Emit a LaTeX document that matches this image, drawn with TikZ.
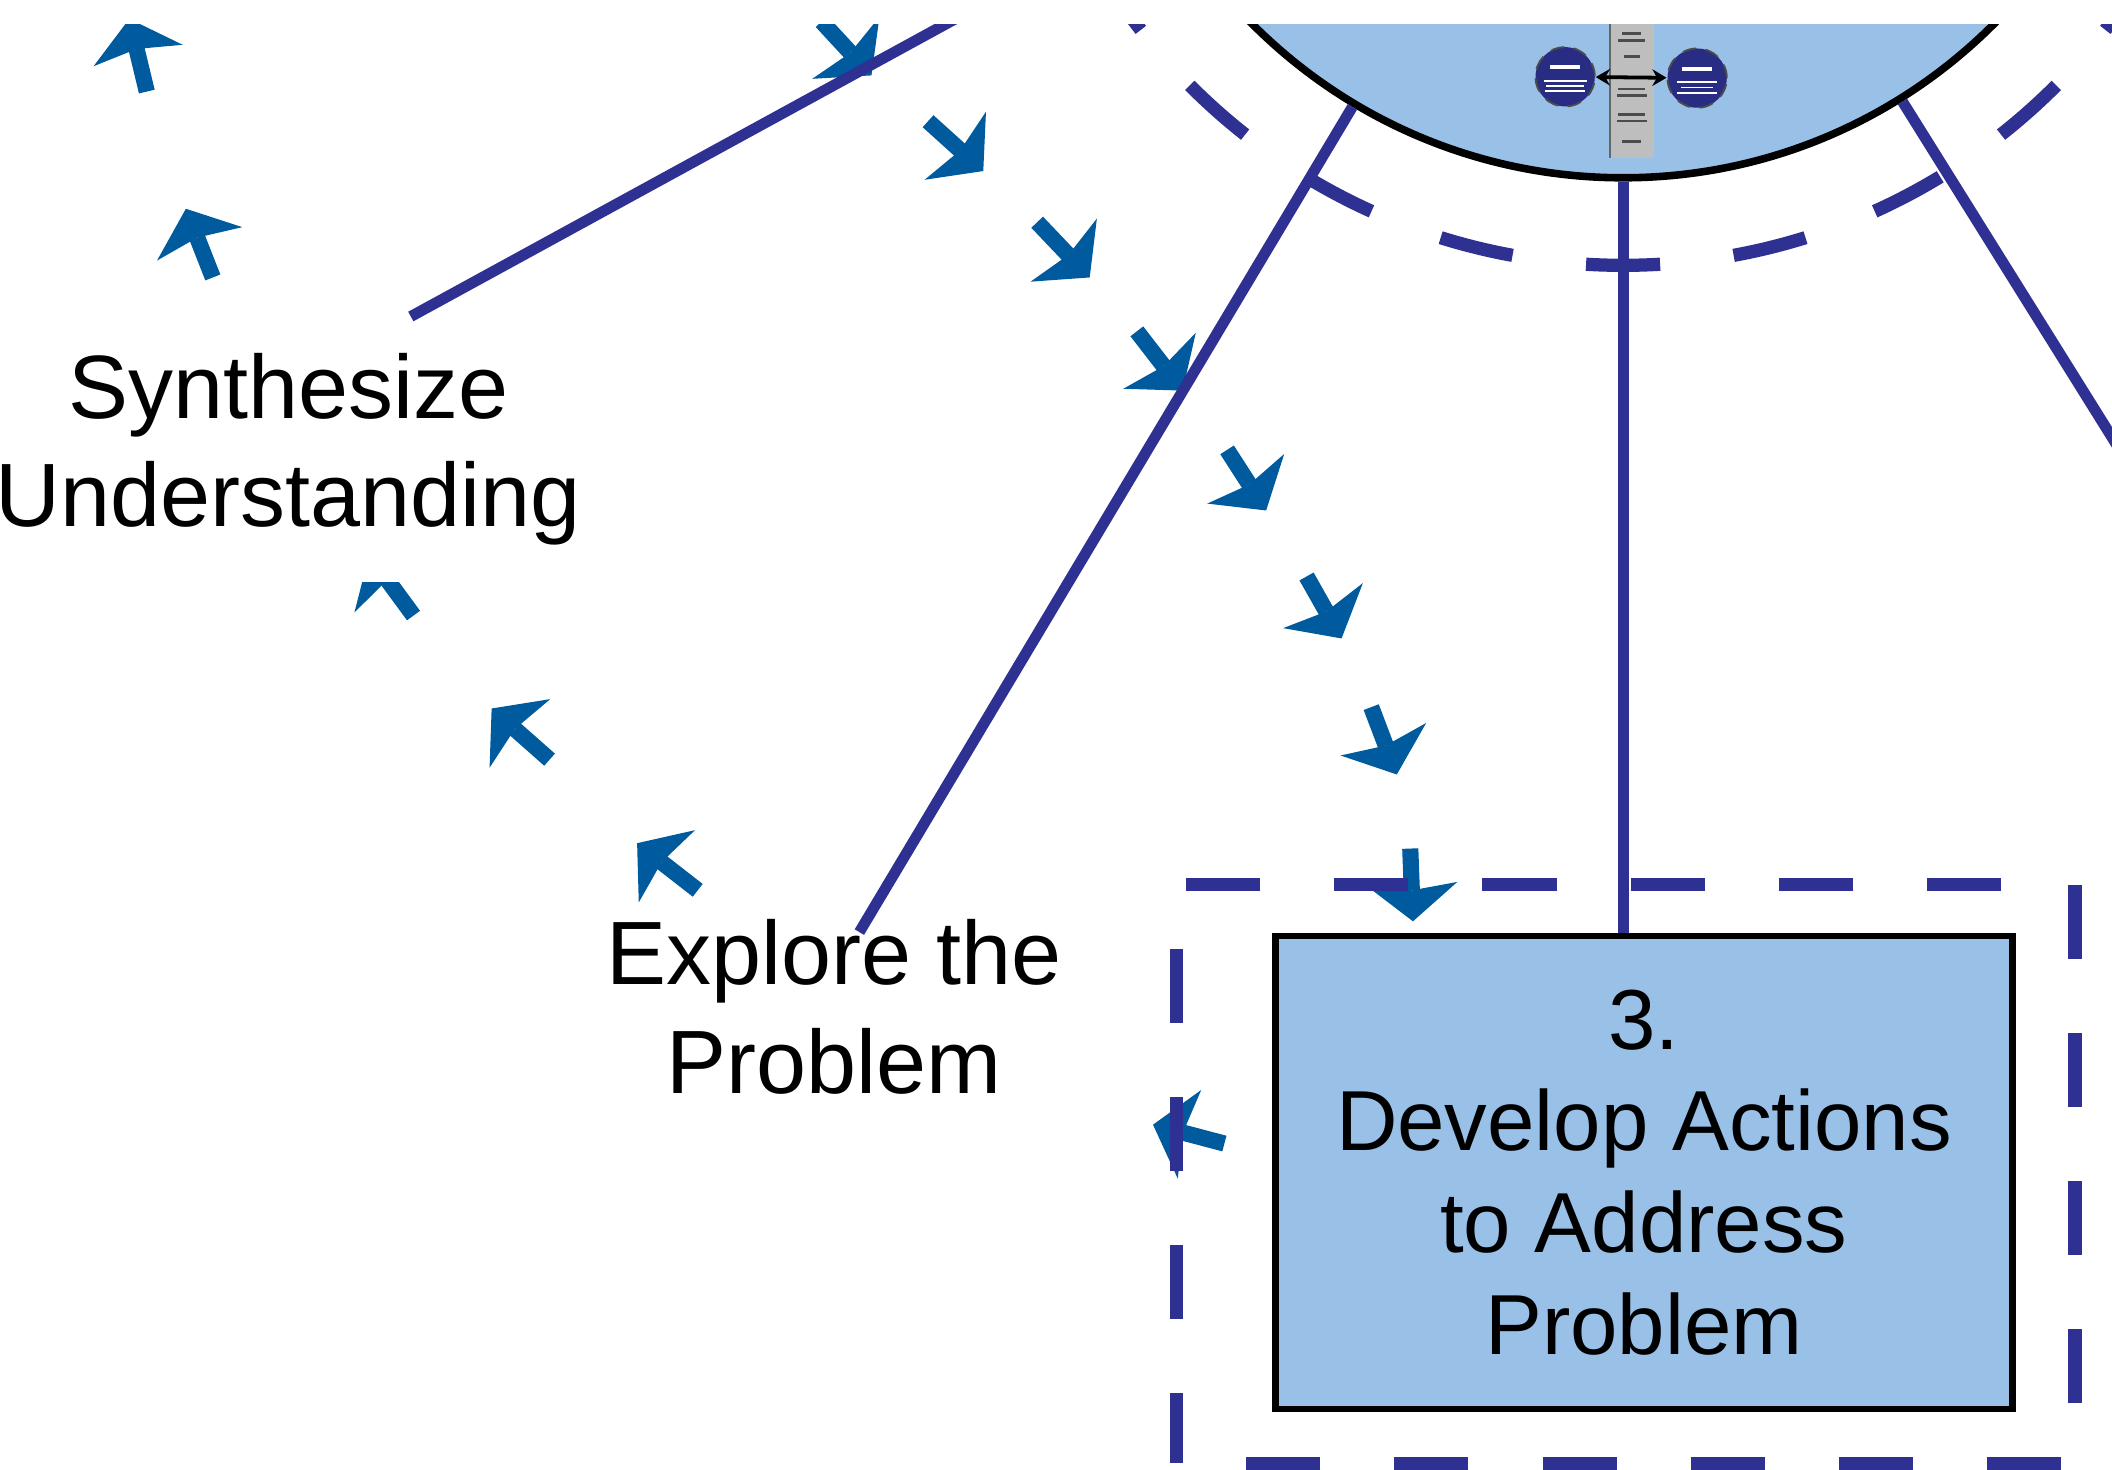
\documentclass[tikz,border=0pt]{standalone}
\usepackage{fontspec}
\setmainfont{Liberation Sans}
\usepackage{xcolor}
\usepackage{tikz}
\usetikzlibrary{arrows.meta, calc}

\definecolor{ringblue}{RGB}{46,49,146}
\definecolor{flowblue}{RGB}{0,90,158}
\definecolor{paleblue}{RGB}{153,192,230}
\definecolor{minigray}{RGB}{190,190,190}

\tikzset{
  %% Hub disc at the top
  hubdisc/.style={
    circle, draw=black, fill=paleblue,
    line width=1.6pt, minimum size=7.78cm, inner sep=0pt
  },
  %% Spoke from the hub
  spoke/.style={draw=ringblue, line width=2.3pt},
  %% Dashed ring and frame
  ring/.style={draw=ringblue, line width=2.8pt,
               dash pattern=on 0.55cm off 0.55cm},
  %% Cycle arrow
  flow/.style={draw=flowblue, line width=0.12cm,
               -{Stealth[length=0.28cm, width=0.68cm, inset=0.05cm,
                         line width=0pt]}},
  %% Step label
  steplbl/.style={
    font=\fontsize{19}{23}\selectfont, align=center,
    inner sep=0.27cm
  },
  %% Step box
  actbox/.style={
    rectangle, draw=black, fill=paleblue, line width=1.4pt,
    minimum width=5.47cm, minimum height=3.51cm,
    font=\fontsize{18}{21.5}\selectfont, align=center
  },
  %% Small disc in the hub picture
  minidisc/.style={
    circle, draw=black!70, fill=ringblue!90!black, densely dashed,
    line width=0.4pt, minimum size=0.44cm, inner sep=0pt
  },
}

\begin{document}
\begin{tikzpicture}
  \useasboundingbox (0,0) rectangle (15.68,10.91);
  \begin{scope}
  \clip (0,0) rectangle (15.68,10.73);

  %% Cycle arrows: tail x/y, tip x/y
  \foreach \tx/\ty/\hx/\hy in {
      1.09/10.23/0.96/10.77,  1.58/8.85/1.38/9.36,
      3.07/6.34/2.74/6.79,    4.08/5.27/3.65/5.65,
      5.18/4.30/4.73/4.65,
      6.10/10.75/6.47/10.35,  6.89/10.01/7.30/9.64,
      7.70/9.26/8.09/8.85,    8.44/8.45/8.78/8.01,
      9.11/7.57/9.40/7.12,    9.70/6.63/9.96/6.17,
      10.18/5.66/10.37/5.16,  10.47/4.61/10.49/4.07,
      9.09/2.42/8.56/2.56}
    \draw[flow] (\tx,\ty) -- (\hx,\hy);

  %% Step labels
  \node[steplbl, fill=white] (synth) at (2.14,7.575)
       {Synthesize\\Understanding};
  \node[steplbl] (explore) at (6.19,3.435) {Explore the\\Problem};

  %% Hub and step 3
  \node[hubdisc] (hub) at (12.05,13.48) {};
  \node[actbox] (act) at (12.205,2.205)
       {3.\\Develop Actions\\to Address\\Problem};

  %% Spoke ends
  \coordinate (synthend)   at (3.05,8.56);
  \coordinate (exploreend) at (6.38,3.99);
  \coordinate (rightend)   at (16.00,7.15);

  %% Spokes
  \draw[spoke] (hub) -- (synthend);
  \draw[spoke] (hub) -- (exploreend);
  \draw[spoke] (hub) -- (hub |- act.north);
  \draw[spoke] (hub) -- (rightend);

  %% Dashed ring round the hub
  \draw[ring, dash phase=0.275cm] ($(hub.center)+(270:4.54)$)
       arc[start angle=270, end angle=450, radius=4.54];
  \draw[ring, dash phase=0.275cm] ($(hub.center)+(270:4.54)$)
       arc[start angle=270, end angle=90, radius=4.54];

  %% Dashed frame round step 3
  \draw[ring, dash phase=0.03cm]
       ($(act.south west)+(-0.71,-0.38)$) -- ($(act.north west)+(-0.71,0.36)$)
       -- ($(act.north east)+(0.44,0.36)$) -- ($(act.south east)+(0.44,-0.38)$)
       -- cycle;

  %% Picture inside the hub
  \fill[minigray] (11.95,9.74) rectangle (12.28,11.0);
  \draw[black!60, line width=0.4pt] (11.95,9.74) -- (11.95,11.0);
  \foreach \y/\w in {10.66/0.07, 10.61/0.10, 10.49/0.06, 10.25/0.10,
                     10.20/0.11, 10.06/0.10, 10.01/0.11, 9.86/0.07}
    \draw[black!70, line width=0.5pt] (12.115-\w,\y) -- (12.115+\w,\y);
  \node[minidisc] (minia) at (11.62,10.34) {};
  \node[minidisc] (minib) at (12.60,10.33) {};
  \draw[{Stealth[length=3pt,width=3.5pt]}-{Stealth[length=3pt,width=3.5pt]},
        line width=0.8pt] (minia) -- (minib);
  \foreach \cx/\y/\w/\lw in {11.62/10.41/0.11/0.8, 11.62/10.31/0.16/0.4,
                             11.62/10.27/0.14/0.4, 11.62/10.235/0.15/0.4,
                             12.60/10.40/0.11/0.8, 12.60/10.30/0.15/0.4,
                             12.60/10.26/0.12/0.4, 12.60/10.22/0.15/0.4}
    \draw[white, line width=\lw pt] (\cx-\w,\y) -- (\cx+\w,\y);
  \end{scope}
\end{tikzpicture}
\end{document}
